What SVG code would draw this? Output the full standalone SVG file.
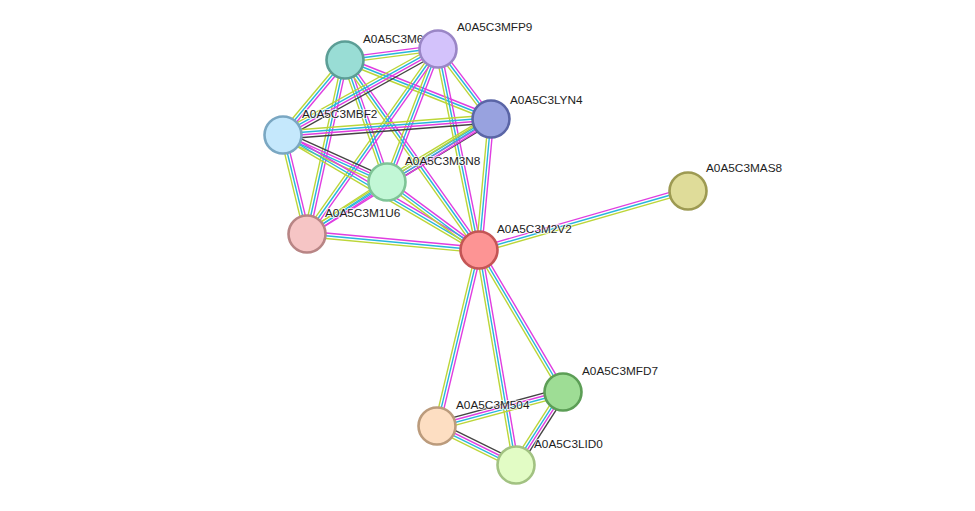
<svg xmlns="http://www.w3.org/2000/svg" width="975" height="511" viewBox="0 0 975 511">
<style>
line{stroke-width:1.4;fill:none}
.k{stroke:#444}
.m{stroke:#e03de0}
.c{stroke:#28b6dc}
.y{stroke:#bcd638}
circle{stroke-width:2.6}
text{font-family:"Liberation Sans",Arial,sans-serif;font-size:11.8px;fill:#1e1e1e;stroke:#fff;stroke-width:2;stroke-opacity:0.7;paint-order:stroke}
</style>
<rect width="975" height="511" fill="#fff"/>
<g id="edges">
<g transform="translate(345,60) rotate(-7.35)"><line class="m" x2="93.8" y1="-2.7" y2="-2.7"/><line class="c" x2="93.8"/><line class="y" x2="93.8" y1="2.7" y2="2.7"/></g>
<g transform="translate(345,60) rotate(21.67)"><line class="m" x2="157.1" y1="-2.7" y2="-2.7"/><line class="c" x2="157.1"/><line class="y" x2="157.1" y1="2.7" y2="2.7"/></g>
<g transform="translate(345,60) rotate(129.96)"><line class="m" x2="96.5" y1="-2.7" y2="-2.7"/><line class="c" x2="96.5"/><line class="y" x2="96.5" y1="2.7" y2="2.7"/></g>
<g transform="translate(345,60) rotate(70.86)"><line class="m" x2="128.1" y1="-2.7" y2="-2.7"/><line class="c" x2="128.1"/><line class="y" x2="128.1" y1="2.7" y2="2.7"/></g>
<g transform="translate(345,60) rotate(102.39)"><line class="m" x2="177.1" y1="-2.7" y2="-2.7"/><line class="c" x2="177.1"/><line class="y" x2="177.1" y1="2.7" y2="2.7"/></g>
<g transform="translate(345,60) rotate(54.66)"><line class="m" x2="231.7" y1="-2.7" y2="-2.7"/><line class="c" x2="231.7"/><line class="y" x2="231.7" y1="2.7" y2="2.7"/></g>
<g transform="translate(438,49) rotate(150.97)"><line class="k" x2="177.3" y1="-4" y2="-4"/><line class="m" x2="177.3" y1="-1.3" y2="-1.3"/><line class="c" x2="177.3" y1="1.3" y2="1.3"/><line class="y" x2="177.3" y1="4" y2="4"/></g>
<g transform="translate(438,49) rotate(52.87)"><line class="m" x2="87.8" y1="-2.7" y2="-2.7"/><line class="c" x2="87.8"/><line class="y" x2="87.8" y1="2.7" y2="2.7"/></g>
<g transform="translate(438,49) rotate(110.98)"><line class="m" x2="142.4" y1="-2.7" y2="-2.7"/><line class="c" x2="142.4"/><line class="y" x2="142.4" y1="2.7" y2="2.7"/></g>
<g transform="translate(438,49) rotate(125.30)"><line class="m" x2="226.7" y1="-2.7" y2="-2.7"/><line class="c" x2="226.7"/><line class="y" x2="226.7" y1="2.7" y2="2.7"/></g>
<g transform="translate(438,49) rotate(78.47)"><line class="m" x2="205.1" y1="-2.7" y2="-2.7"/><line class="c" x2="205.1"/><line class="y" x2="205.1" y1="2.7" y2="2.7"/></g>
<g transform="translate(491,119) rotate(175.60)"><line class="k" x2="208.6" y1="-4" y2="-4"/><line class="m" x2="208.6" y1="-1.3" y2="-1.3"/><line class="c" x2="208.6" y1="1.3" y2="1.3"/><line class="y" x2="208.6" y1="4" y2="4"/></g>
<g transform="translate(491,119) rotate(148.79)"><line class="k" x2="121.6" y1="-4" y2="-4"/><line class="m" x2="121.6" y1="-1.3" y2="-1.3"/><line class="c" x2="121.6" y1="1.3" y2="1.3"/><line class="y" x2="121.6" y1="4" y2="4"/></g>
<g transform="translate(491,119) rotate(147.99)"><line class="m" x2="217" y1="-2.7" y2="-2.7"/><line class="c" x2="217"/><line class="y" x2="217" y1="2.7" y2="2.7"/></g>
<g transform="translate(491,119) rotate(95.23)"><line class="m" x2="131.6" y1="-2.7" y2="-2.7"/><line class="c" x2="131.6"/><line class="y" x2="131.6" y1="2.7" y2="2.7"/></g>
<g transform="translate(283,135) rotate(24.32)"><line class="k" x2="114.1" y1="-4" y2="-4"/><line class="m" x2="114.1" y1="-1.3" y2="-1.3"/><line class="c" x2="114.1" y1="1.3" y2="1.3"/><line class="y" x2="114.1" y1="4" y2="4"/></g>
<g transform="translate(283,135) rotate(76.37)"><line class="m" x2="101.9" y1="-2.7" y2="-2.7"/><line class="c" x2="101.9"/><line class="y" x2="101.9" y1="2.7" y2="2.7"/></g>
<g transform="translate(283,135) rotate(30.40)"><line class="m" x2="227.3" y1="-2.7" y2="-2.7"/><line class="c" x2="227.3"/><line class="y" x2="227.3" y1="2.7" y2="2.7"/></g>
<g transform="translate(387,182) rotate(146.98)"><line class="m" x2="95.4" y1="-2.7" y2="-2.7"/><line class="c" x2="95.4"/><line class="y" x2="95.4" y1="2.7" y2="2.7"/></g>
<g transform="translate(387,182) rotate(36.47)"><line class="m" x2="114.4" y1="-2.7" y2="-2.7"/><line class="c" x2="114.4"/><line class="y" x2="114.4" y1="2.7" y2="2.7"/></g>
<g transform="translate(307,234) rotate(5.31)"><line class="m" x2="172.7" y1="-2.7" y2="-2.7"/><line class="c" x2="172.7"/><line class="y" x2="172.7" y1="2.7" y2="2.7"/></g>
<g transform="translate(479,250) rotate(-16.02)"><line class="m" x2="217.4" y1="-2.7" y2="-2.7"/><line class="c" x2="217.4"/><line class="y" x2="217.4" y1="2.7" y2="2.7"/></g>
<g transform="translate(479,250) rotate(103.42)"><line class="m" x2="180.9" y1="-2.7" y2="-2.7"/><line class="c" x2="180.9"/><line class="y" x2="180.9" y1="2.7" y2="2.7"/></g>
<g transform="translate(479,250) rotate(80.24)"><line class="m" x2="218.2" y1="-2.7" y2="-2.7"/><line class="c" x2="218.2"/><line class="y" x2="218.2" y1="2.7" y2="2.7"/></g>
<g transform="translate(479,250) rotate(59.39)"><line class="m" x2="165" y1="-2.7" y2="-2.7"/><line class="c" x2="165"/><line class="y" x2="165" y1="2.7" y2="2.7"/></g>
<g transform="translate(437,426) rotate(-15.10)"><line class="k" x2="130.5" y1="-4" y2="-4"/><line class="m" x2="130.5" y1="-1.3" y2="-1.3"/><line class="c" x2="130.5" y1="1.3" y2="1.3"/><line class="y" x2="130.5" y1="4" y2="4"/></g>
<g transform="translate(437,426) rotate(26.28)"><line class="k" x2="88.1" y1="-4" y2="-4"/><line class="m" x2="88.1" y1="-1.3" y2="-1.3"/><line class="c" x2="88.1" y1="1.3" y2="1.3"/><line class="y" x2="88.1" y1="4" y2="4"/></g>
<g transform="translate(563,392) rotate(122.77)"><line class="k" x2="86.8" y1="-4" y2="-4"/><line class="m" x2="86.8" y1="-1.3" y2="-1.3"/><line class="c" x2="86.8" y1="1.3" y2="1.3"/><line class="y" x2="86.8" y1="4" y2="4"/></g>
</g>
<g id="n-M6"><circle cx="345" cy="60" r="18.5" fill="#99ddd5" stroke="#5c9e96"/><text x="363" y="43">A0A5C3M6</text></g>
<g id="n-MFP9"><circle cx="438" cy="49" r="18.5" fill="#d3c2fb" stroke="#9a86c6"/><text x="457" y="31">A0A5C3MFP9</text></g>
<g id="n-LYN4"><circle cx="491" cy="119" r="18.5" fill="#98a2df" stroke="#5a65a6"/><text x="510" y="104">A0A5C3LYN4</text></g>
<g id="n-MBF2"><circle cx="283" cy="135" r="18.5" fill="#c5e8fc" stroke="#7aa7c2"/><text x="302" y="118">A0A5C3MBF2</text></g>
<g id="n-M3N8"><circle cx="387" cy="182" r="18.5" fill="#c2f7d6" stroke="#7ec496"/><text x="405" y="165">A0A5C3M3N8</text></g>
<g id="n-M1U6"><circle cx="307" cy="234" r="18.5" fill="#f6c5c5" stroke="#b88585"/><text x="325" y="217">A0A5C3M1U6</text></g>
<g id="n-M2V2"><circle cx="479" cy="250" r="18.5" fill="#fd9494" stroke="#c45555"/><text x="497" y="233">A0A5C3M2V2</text></g>
<g id="n-MAS8"><circle cx="688" cy="191" r="18.5" fill="#dfdc99" stroke="#9d9a52"/><text x="706" y="172">A0A5C3MAS8</text></g>
<g id="n-MFD7"><circle cx="563" cy="392" r="18.5" fill="#9edd95" stroke="#5c9e56"/><text x="582" y="375">A0A5C3MFD7</text></g>
<g id="n-M504"><circle cx="437" cy="426" r="18.5" fill="#fddec2" stroke="#bb9b7c"/><text x="456" y="409">A0A5C3M504</text></g>
<g id="n-LID0"><circle cx="516" cy="465" r="18.5" fill="#e2fcc5" stroke="#a2c282"/><text x="534" y="448">A0A5C3LID0</text></g>
</svg>
